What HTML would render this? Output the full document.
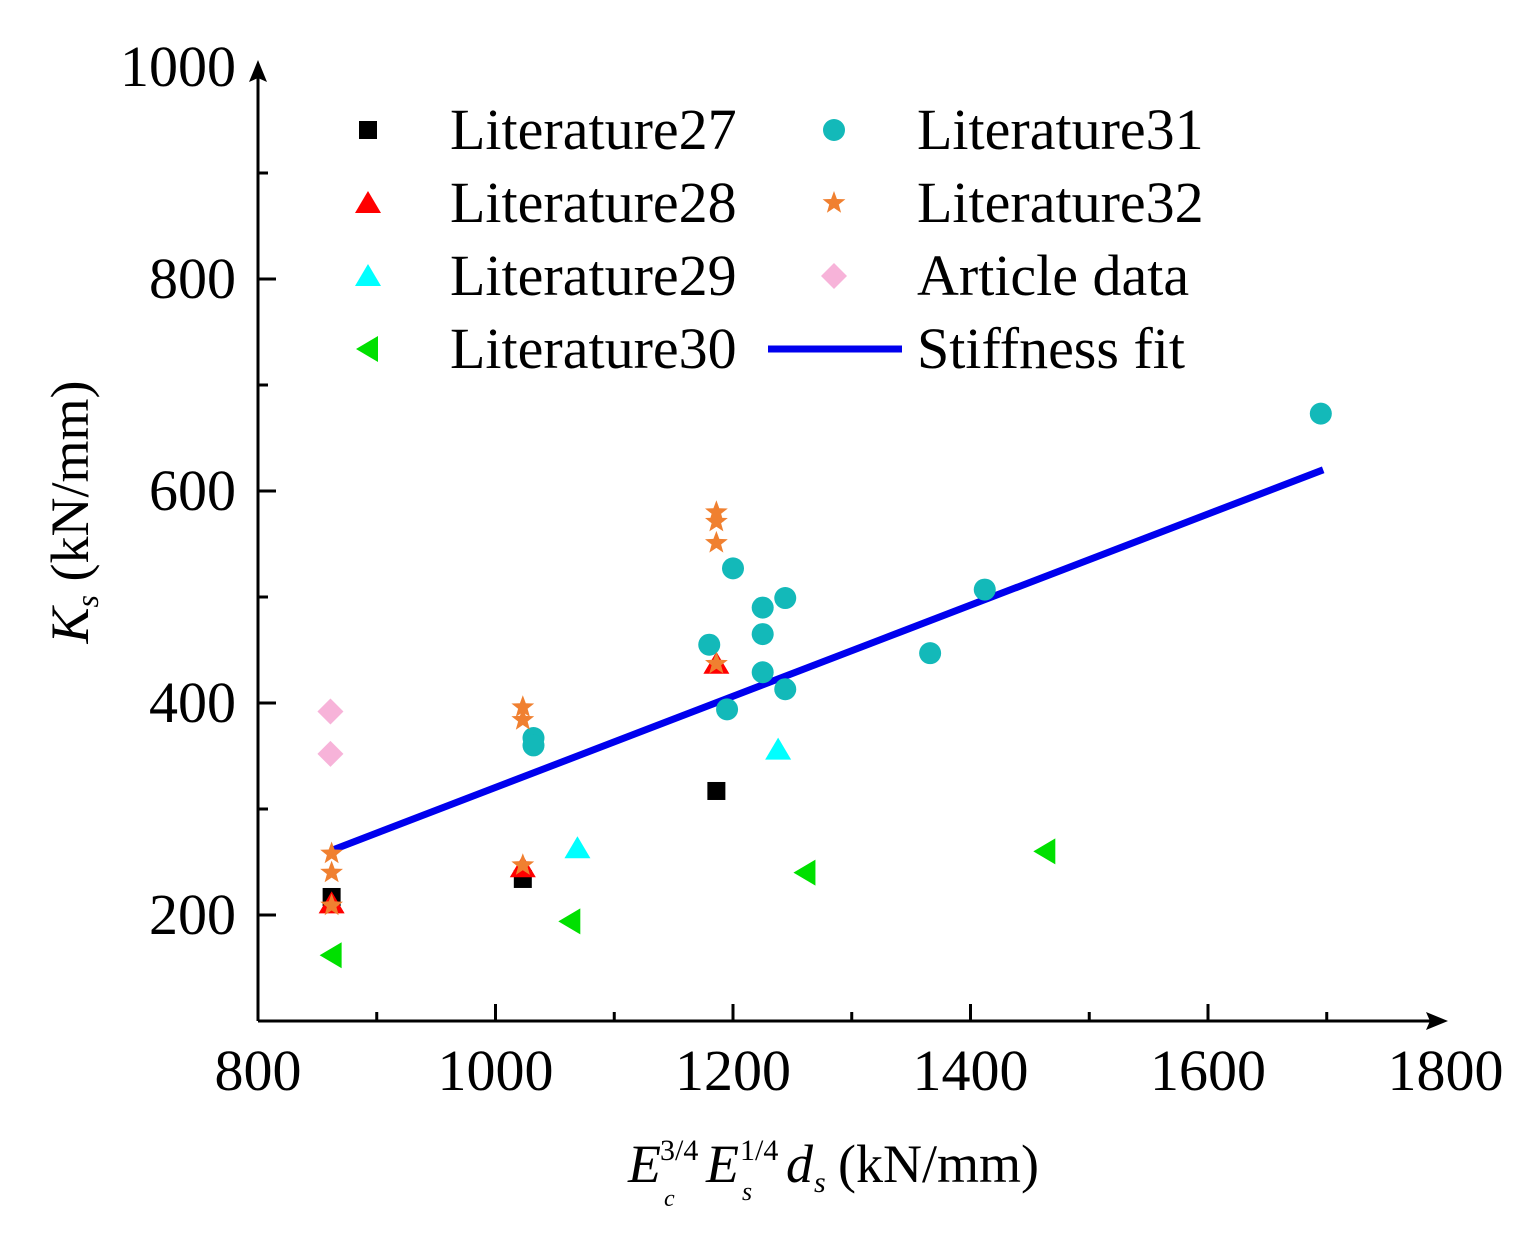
<!DOCTYPE html>
<html><head><meta charset="utf-8"><style>
body{margin:0;background:#fff}
svg{display:block;font-family:"Liberation Serif",serif}
</style></head><body>
<svg width="1530" height="1237" viewBox="0 0 1530 1237">
<g id="axes"></g><g id="marks"></g><g id="legend"></g>
<text transform="translate(88,512) rotate(-90)" text-anchor="middle" font-size="54"><tspan font-style="italic">K</tspan><tspan font-style="italic" font-size="32" dy="10">s</tspan><tspan dy="-10"> (kN/mm)</tspan></text>
<g font-size="54">
<text x="628" y="1182" font-style="italic">E</text>
<text x="660" y="1160" font-size="30">3/4</text>
<text x="664" y="1206" font-size="24" font-style="italic">c</text>
<text x="706" y="1182" font-style="italic">E</text>
<text x="740" y="1160" font-size="30">1/4</text>
<text x="742" y="1200" font-size="26" font-style="italic">s</text>
<text x="786" y="1182" font-style="italic">d</text>
<text x="814" y="1192" font-size="30" font-style="italic">s</text>
<text x="838" y="1182">(kN/mm)</text>
</g>
</svg>
<script>
const xTicks=[800,1000,1200,1400,1600,1800];
const yTicks=[200,400,600,800,1000];
const lit27x=[862,1023,1186], lit27y=[217,234,317];
const lit28x=[862,1023,1186], lit28y=[211,245,437];
const lit29x=[1069,1238], lit29y=[263,356];
const lit30x=[862,1063,1261,1463], lit30y=[162,194,240,260];
const lit31x=[1032,1032,1180,1200,1225,1244,1225,1225,1244,1195,1366,1412,1695];
const lit31y=[367,360,455,527,490,499,465,429,413,394,447,507,673];
const lit32x=[862,862,862,1023,1023,1023,1186,1186,1186,1186];
const lit32y=[258,240,209,396,384,247,580,571,551,437];
const artX=[861,861], artY=[392,352];
const fitX=[862,1697], fitY=[261,620];
const seriesNames=["Literature27","Literature28","Literature29","Literature30","Literature31","Literature32","Article data","Stiffness fit"];

const NS="http://www.w3.org/2000/svg";
const X=v=>258+(v-800)*237.5/200;
const Y=v=>1021-(v-100)*212/200;
function mk(tag,attrs,parent){const e=document.createElementNS(NS,tag);for(const k in attrs)e.setAttribute(k,attrs[k]);parent.appendChild(e);return e;}
const axes=document.getElementById('axes'),marks=document.getElementById('marks'),legend=document.getElementById('legend');

let e=mk('line',{x1:258,y1:1021,x2:1440,y2:1021,stroke:'#000','stroke-width':3},axes);

e=mk('path',{d:'M1448 1021 L1426 1012 L1430 1021 L1426 1030 Z',fill:'#000'},axes);

e=mk('line',{x1:258,y1:1021,x2:258,y2:66,stroke:'#000','stroke-width':3},axes);

e=mk('path',{d:'M258 60 L249 82 L258 78 L267 82 Z',fill:'#000'},axes);


for(let v=900;v<=1700;v+=100){const x=X(v);const major=v%200===0;
 e=mk('line',{x1:x,y1:1021,x2:x,y2:major?1004:1012,stroke:'#000','stroke-width':3},axes);
 }
xTicks.forEach(v=>{e=mk('text',{x:X(v),y:1090,'text-anchor':'middle','font-size':58},axes);e.textContent=v;
 });
for(let v=200;v<=900;v+=100){const y=Y(v);const major=v%200===0;
 e=mk('line',{x1:258,y1:y,x2:major?276:268,y2:y,stroke:'#000','stroke-width':3},axes);
 }
yTicks.forEach(v=>{e=mk('text',{x:236,y:Y(v)+19,'text-anchor':'end','font-size':58},axes);e.textContent=v;
 });

function marker(type,cx,cy,g,s){s=s||1;
 if(type==='square')return mk('rect',{x:cx-9*s,y:cy-9*s,width:18*s,height:18*s,fill:'#000'},g);
 if(type==='tri')return mk('path',{d:`M${cx} ${cy-12*s} L${cx+13*s} ${cy+10*s} L${cx-13*s} ${cy+10*s} Z`,fill:'#f00'},g);
 if(type==='tri2')return mk('path',{d:`M${cx} ${cy-12*s} L${cx+13*s} ${cy+10*s} L${cx-13*s} ${cy+10*s} Z`,fill:'#00ffff'},g);
 if(type==='left')return mk('path',{d:`M${cx-12*s} ${cy} L${cx+10*s} ${cy-13*s} L${cx+10*s} ${cy+13*s} Z`,fill:'#00e000'},g);
 if(type==='circle')return mk('circle',{cx:cx,cy:cy,r:11*s,fill:'#13b9b9'},g);
 if(type==='star'){let p='';for(let i=0;i<10;i++){const r=i%2?5*s:12*s,a=-Math.PI/2+i*Math.PI/5;p+=(i?'L':'M')+(cx+r*Math.cos(a)).toFixed(1)+' '+(cy+r*Math.sin(a)).toFixed(1);}return mk('path',{d:p+'Z',fill:'#f08030'},g);}
 if(type==='diamond')return mk('path',{d:`M${cx} ${cy-13*s} L${cx+13*s} ${cy} L${cx} ${cy+13*s} L${cx-13*s} ${cy} Z`,fill:'#f7b3d9'},g);
}
const series=[[lit27x,lit27y,'square','lit27-point'],[lit28x,lit28y,'tri','lit28-point'],[lit29x,lit29y,'tri2','lit29-point'],[lit30x,lit30y,'left','lit30-point'],[lit31x,lit31y,'circle','lit31-point'],[lit32x,lit32y,'star','lit32-point'],[artX,artY,'diamond','article-point']];
const fit=mk('line',{x1:X(fitX[0]),y1:Y(fitY[0]),x2:X(fitX[1]),y2:Y(fitY[1]),stroke:'#0000ee','stroke-width':7},marks);

series.forEach(([xs,ys,t,n])=>xs.forEach((v,i)=>{const m=marker(t,X(v),Y(ys[i]),marks);
 }));

const legPos=[[368,450,130],[368,450,203],[368,450,276],[368,450,349],[834,917,130],[834,917,203],[834,917,276],[834,917,349]];
const legTypes=['square','tri','tri2','left','circle','star','diamond','line'];
seriesNames.forEach((n,i)=>{const [mx,tx,y]=legPos[i];
 const g=mk('g',{},legend);
 
 if(legTypes[i]==='line')mk('line',{x1:768,y1:y,x2:902,y2:y,stroke:'#0000ee','stroke-width':7},g);
 else marker(legTypes[i],mx,y,g);
 const t=mk('text',{x:tx,y:y+19,'font-size':58},g);t.textContent=n;});
</script>
</body></html>
